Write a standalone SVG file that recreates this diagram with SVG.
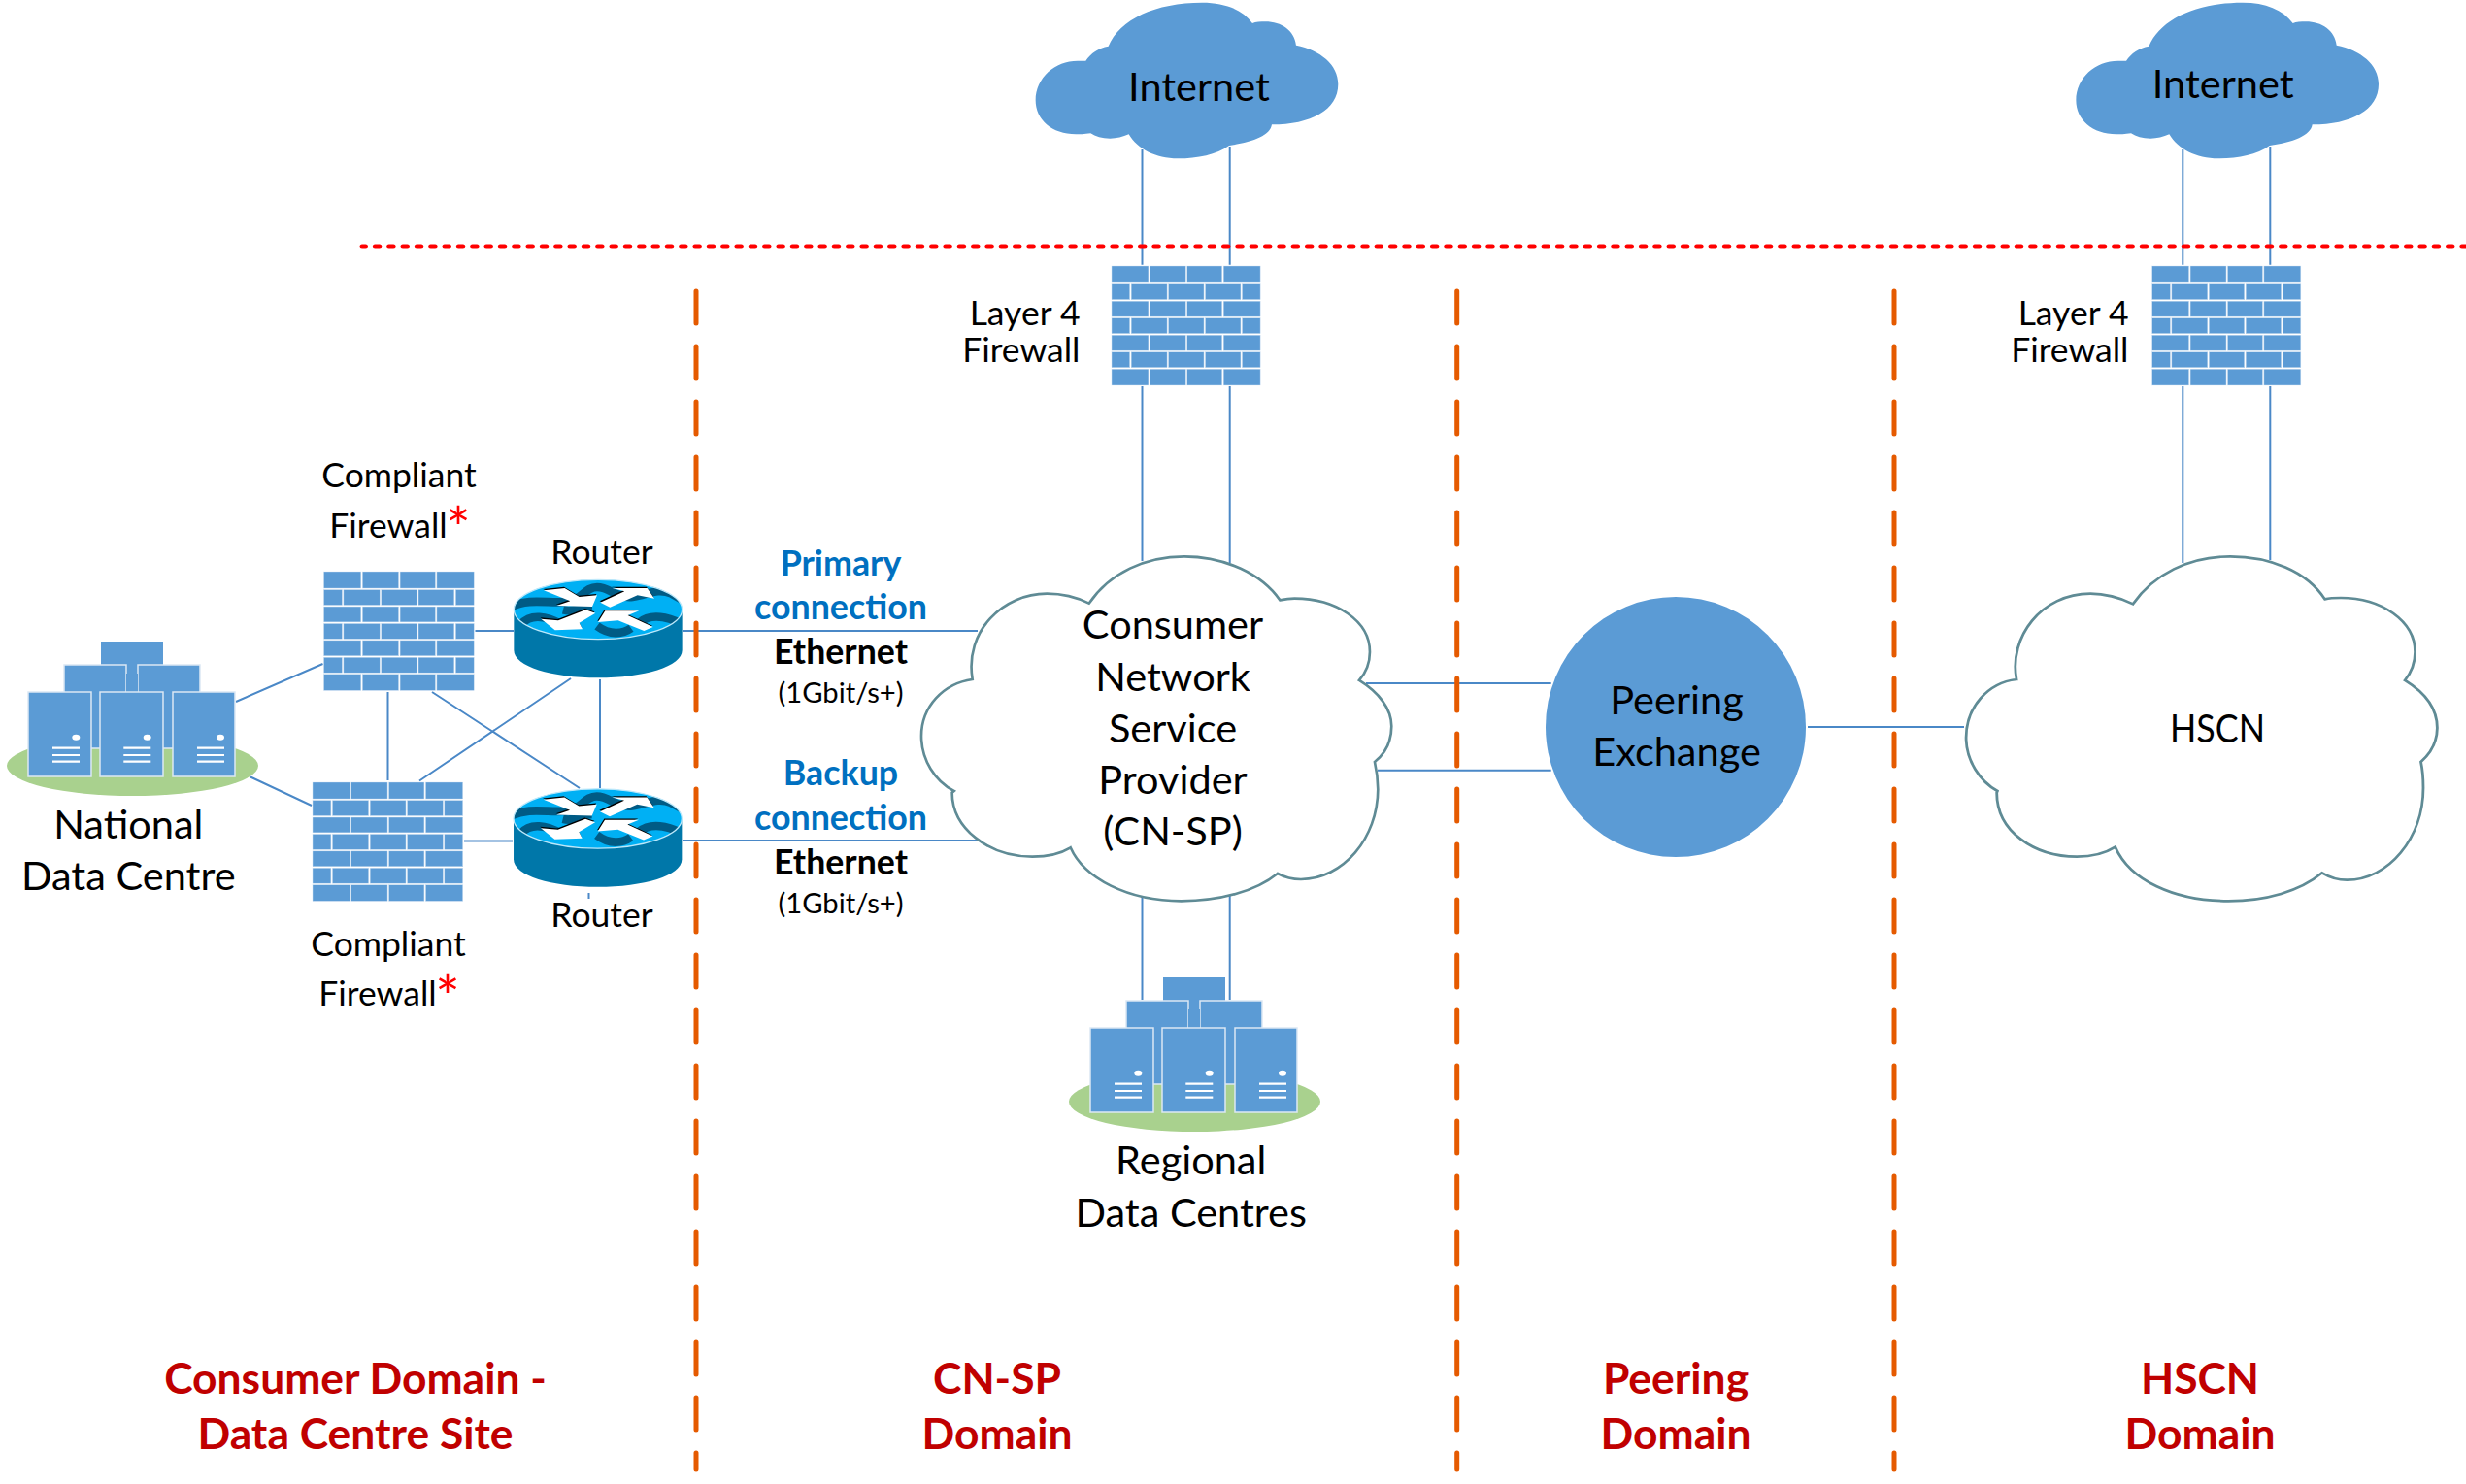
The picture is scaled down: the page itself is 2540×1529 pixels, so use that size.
<svg xmlns="http://www.w3.org/2000/svg" xmlns:xlink="http://www.w3.org/1999/xlink" width="2540" height="1529" viewBox="0 0 2540 1529">
<style>
text{font-family:Lato,"Open Sans",sans-serif;fill:#000;text-anchor:middle;transform:translateY(1px)}
.t{font-size:41.5px}
.s{font-size:35.5px}
.e{font-size:35.7px;font-weight:700}
.n{font-size:29.2px}
.b{font-size:35.8px;font-weight:700;fill:#0070C0}
.d{font-size:44.4px;font-weight:700;fill:#C00000}
.a{fill:#FF0000;font-size:60px}
.l{stroke:#4A88C7;stroke-width:2;fill:none}
.o{stroke:#E55A00;stroke-width:5;stroke-dasharray:33 24;stroke-linecap:round;fill:none}
.br{fill:#5B9BD5;stroke:#CFE0F1;stroke-width:1}
.cl{fill:#fff;stroke:#5F8B95;stroke-width:8}
.sv{fill:#5B9BD5;stroke:#DCE8F4;stroke-width:1.5}
.m{stroke:#fff;stroke-width:2.2;fill:none}
</style>
<defs>
<g id="wall">
<rect class="br" x="0" y="0" width="79" height="43"/><rect class="br" x="82" y="0" width="77" height="43"/><rect class="br" x="162" y="0" width="75" height="43"/><rect class="br" x="240" y="0" width="79" height="43"/>
<rect class="br" x="0" y="47" width="39" height="40"/><rect class="br" x="42" y="47" width="77" height="40"/><rect class="br" x="122" y="47" width="76" height="40"/><rect class="br" x="201" y="47" width="76" height="40"/><rect class="br" x="280" y="47" width="39" height="40"/>
<rect class="br" x="0" y="91" width="79" height="40"/><rect class="br" x="82" y="91" width="77" height="40"/><rect class="br" x="162" y="91" width="75" height="40"/><rect class="br" x="240" y="91" width="79" height="40"/>
<rect class="br" x="0" y="135" width="39" height="40"/><rect class="br" x="42" y="135" width="77" height="40"/><rect class="br" x="122" y="135" width="76" height="40"/><rect class="br" x="201" y="135" width="76" height="40"/><rect class="br" x="280" y="135" width="39" height="40"/>
<rect class="br" x="0" y="179" width="79" height="40"/><rect class="br" x="82" y="179" width="77" height="40"/><rect class="br" x="162" y="179" width="75" height="40"/><rect class="br" x="240" y="179" width="79" height="40"/>
<rect class="br" x="0" y="223" width="39" height="40"/><rect class="br" x="42" y="223" width="77" height="40"/><rect class="br" x="122" y="223" width="76" height="40"/><rect class="br" x="201" y="223" width="76" height="40"/><rect class="br" x="280" y="223" width="39" height="40"/>
<rect class="br" x="0" y="267" width="79" height="42"/><rect class="br" x="82" y="267" width="77" height="42"/><rect class="br" x="162" y="267" width="75" height="42"/><rect class="br" x="240" y="267" width="79" height="42"/>
</g>
<clipPath id="rt"><ellipse cx="348" cy="204" rx="260" ry="92"/></clipPath>
<g id="router">
<path d="M88,205 L88,330 C88,380 205,415 348,415 C490,415 608,380 608,330 L608,205 Z" fill="#0077A9"/>
<ellipse cx="348" cy="204" rx="260" ry="92" fill="#00B0F4"/>
<g clip-path="url(#rt)" fill="none" stroke="#005B85" stroke-width="26">
<path d="M80,195 C140,165 210,190 265,178 C300,168 310,135 345,135 C385,135 405,170 455,165 C500,160 530,135 575,155 L620,180"/>
<path d="M110,250 C140,215 190,225 235,250 M345,255 C385,285 425,280 450,262 M475,245 C510,215 565,225 620,255"/>
<path d="M240,205 C280,215 300,190 330,190"/>
</g>
<ellipse cx="348" cy="204" rx="260" ry="92" fill="none" stroke="#BDE8FA" stroke-width="4"/>
<g fill="#000" transform="translate(-2,-4)">
<path d="M180,145 L245,138 L290,165 L345,160 L330,195 L220,192 L262,178 Z"/>
<path d="M355,182 L430,148 L392,138 L500,138 L522,170 L470,160 L385,197 Z"/>
<path d="M172,233 L225,238 L310,205 L340,215 L290,245 L300,265 L215,268 Z"/>
<path d="M348,243 L370,208 L475,208 L440,222 L518,258 L490,270 L410,238 Z"/>
</g>
<g fill="#fff">
<path d="M180,145 L245,138 L290,165 L345,160 L330,195 L220,192 L262,178 Z"/>
<path d="M355,182 L430,148 L392,138 L500,138 L522,170 L470,160 L385,197 Z"/>
<path d="M172,233 L225,238 L310,205 L340,215 L290,245 L300,265 L215,268 Z"/>
<path d="M348,243 L370,208 L475,208 L440,222 L518,258 L490,270 L410,238 Z"/>
</g>
</g>
<g id="servers">
<ellipse cx="1230.5" cy="1135" rx="129.5" ry="31" fill="#A9D18E"/>
<rect x="1198" y="1007" width="64" height="60" fill="#5B9BD5"/>
<rect class="sv" x="1160" y="1031" width="64" height="86"/>
<rect class="sv" x="1236" y="1031" width="64" height="86"/>
<rect x="1224" y="1040" width="12" height="77" fill="#5B9BD5"/>
<rect class="sv" x="1123" y="1059" width="65" height="87"/>
<rect class="sv" x="1197" y="1059" width="65" height="87"/>
<rect class="sv" x="1272" y="1059" width="64" height="87"/>
<g fill="#fff"><ellipse cx="1172.3" cy="1105.7" rx="4" ry="3"/><ellipse cx="1245.7" cy="1105.7" rx="4" ry="3"/><ellipse cx="1321" cy="1105.7" rx="4" ry="3"/></g>
<path class="m" d="M1148,1116.7H1176M1148,1124H1176M1148,1130.7H1176M1221.3,1116.7H1249.3M1221.3,1124H1249.3M1221.3,1130.7H1249.3M1297,1116.7H1325M1297,1124H1325M1297,1130.7H1325"/>
</g>
<path id="inet" fill="#5B9BD5" d="M295,188 C310,165 335,148 365,143 C400,60 510,8 655,8 C725,8 780,30 810,72 C820,68 835,67 850,67 C900,67 940,95 945,140 C1020,155 1075,200 1075,260 C1075,340 990,385 870,385 C865,420 810,440 738,450 C700,478 640,490 580,490 C510,490 455,460 428,415 C410,423 390,428 370,428 C345,428 325,422 310,412 C290,415 275,415 265,415 C190,415 140,370 140,310 C140,240 200,188 270,188 Z"/>
</defs>

<g id="connectors">
<path class="l" d="M243,723L332.5,684M258,800.5L321,830M399.5,713V804M445,713L597,812M432,804.5L588,699M618,700V812M489.5,650H529M478,866.5H528M703,650H1007M703,866H1007M606.5,920V926"/>
<path class="l" d="M1176.5,154V272.7M1266.7,151V272.7M1176.5,398V578M1266.7,398V580M1176.5,923V1030M1266.7,923V1030"/>
<path class="l" d="M2248.3,154V272.7M2338.3,151V272.7M2248.3,398V580M2338.3,398V577"/>
<path class="l" d="M1407,704H1597.7M1419,793.7H1597.7M1862,749H2023"/>
</g>
<g id="boundaries">
<path d="M373,254H2540" fill="none" stroke="#FF0000" stroke-width="5" stroke-dasharray="4.5 9.83" stroke-dashoffset="1" stroke-linecap="round"/>
<path class="o" d="M717,300V1514"/>
<path class="o" d="M1500.7,300V1514"/>
<path class="o" d="M1951,300V1514"/>
</g>

<g id="internet-cnsp"><use xlink:href="#inet" href="#inet" transform="translate(1020,0) scale(.3333)"/><text class="t" x="1235" y="102.7">Internet</text></g>
<g id="internet-hscn"><use xlink:href="#inet" href="#inet" transform="translate(2091.7,0) scale(.3333)"/><text class="t" x="2289.7" y="100">Internet</text></g>
<g id="firewall-l4-cnsp"><use xlink:href="#wall" href="#wall" transform="translate(1145,274) scale(.48,.398)"/><text class="s" style="text-anchor:end"><tspan x="1112.5" y="334">Layer 4</tspan><tspan x="1112.5" y="372">Firewall</tspan></text></g>
<g id="firewall-l4-hscn"><use xlink:href="#wall" href="#wall" transform="translate(2216.7,274) scale(.48,.398)"/><text class="s" style="text-anchor:end"><tspan x="2192.5" y="334">Layer 4</tspan><tspan x="2192.5" y="372">Firewall</tspan></text></g>
<g id="national-dc"><use xlink:href="#servers" href="#servers" transform="translate(-1094,-346)"/><text class="t"><tspan x="132.3" y="863">National</tspan><tspan x="132.3" y="916">Data Centre</tspan></text></g>
<g id="regional-dc"><use xlink:href="#servers" href="#servers"/><text class="t"><tspan x="1226.7" y="1209">Regional</tspan><tspan x="1226.7" y="1262.7">Data Centres</tspan></text></g>
<g id="firewall-1"><use xlink:href="#wall" href="#wall" transform="translate(333.5,589) scale(.485,.396)"/><text class="s" x="411" y="501">Compliant</text><text class="s" x="400" y="552.6">Firewall</text><text class="a" x="472" y="565">*</text></g>
<g id="firewall-2"><use xlink:href="#wall" href="#wall" transform="translate(322,806) scale(.485,.396)"/><text class="s" x="400" y="983.5">Compliant</text><text class="s" x="389" y="1035">Firewall</text><text class="a" x="461" y="1048">*</text></g>
<g id="router-1"><use xlink:href="#router" href="#router" transform="translate(500,560) scale(.3333)"/><text class="s" x="620" y="580">Router</text></g>
<g id="router-2"><use xlink:href="#router" href="#router" transform="translate(499.7,775.5) scale(.3333)"/><text class="s" x="620" y="954">Router</text></g>
<g id="cn-sp-cloud">
<path transform="translate(940,540) scale(.3333)" class="cl" d="M185,480 C160,330 280,215 415,215 C462,215 505,225 545,245 C610,150 720,100 840,100 C965,100 1080,155 1135,235 C1150,232 1165,230 1180,230 C1310,230 1413,300 1413,395 C1413,430 1400,460 1380,483 C1440,520 1480,570 1480,625 C1480,670 1462,708 1428,735 C1435,765 1438,795 1438,820 C1438,970 1330,1098 1200,1098 C1175,1098 1150,1092 1128,1080 C1060,1135 950,1165 830,1165 C665,1165 530,1095 488,1000 C455,1020 415,1028 370,1028 C235,1028 122,940 122,830 L128,825 C70,795 27,730 27,655 C27,565 95,492 185,480 Z"/>
<text class="t"><tspan x="1208" y="656.7">Consumer</tspan><tspan x="1208" y="710.7">Network</tspan><tspan x="1208" y="764">Service</tspan><tspan x="1208" y="817">Provider</tspan><tspan x="1208" y="870">(CN-SP)</tspan></text>
</g>
<g id="peering"><circle cx="1726" cy="749" r="134" fill="#5B9BD5"/><text class="t"><tspan x="1727" y="735">Peering</tspan><tspan x="1727" y="788">Exchange</tspan></text></g>
<g id="hscn-cloud">
<path transform="translate(1990,560) scale(.3509,.3333)" class="cl" d="M248,420 C225,290 320,155 465,155 C510,155 550,167 590,187 C650,95 755,40 875,40 C990,40 1100,85 1153,172 C1170,168 1185,168 1200,168 C1320,168 1418,240 1418,335 C1418,370 1407,398 1388,423 C1445,460 1483,510 1483,570 C1483,612 1465,647 1435,675 C1440,700 1442,730 1442,755 C1442,910 1340,1040 1218,1040 C1192,1040 1167,1032 1145,1018 C1080,1075 980,1105 870,1105 C710,1105 580,1040 538,938 C505,960 465,968 425,968 C300,968 190,890 190,770 L192,765 C140,735 100,670 100,600 C100,505 165,430 248,420 Z"/>
<text class="t" x="2284" y="764" textLength="98" lengthAdjust="spacingAndGlyphs">HSCN</text>
</g>
<g id="labels">
<text class="b"><tspan x="866" y="591.7">Primary</tspan><tspan x="866" y="637">connection</tspan></text>
<text class="e" x="866" y="683">Ethernet</text><text class="n" x="866" y="723">(1Gbit/s+)</text>
<text class="b"><tspan x="866" y="808">Backup</tspan><tspan x="866" y="854">connection</tspan></text>
<text class="e" x="866" y="900">Ethernet</text><text class="n" x="866" y="940">(1Gbit/s+)</text>
<text class="d"><tspan x="366" y="1435">Consumer Domain -</tspan><tspan x="366" y="1491.7">Data Centre Site</tspan></text>
<text class="d"><tspan x="1027" y="1435">CN-SP</tspan><tspan x="1027" y="1491.7">Domain</tspan></text>
<text class="d"><tspan x="1726" y="1435">Peering</tspan><tspan x="1726" y="1491.7">Domain</tspan></text>
<text class="d"><tspan x="2266" y="1435">HSCN</tspan><tspan x="2266" y="1491.7">Domain</tspan></text>
</g>
</svg>
